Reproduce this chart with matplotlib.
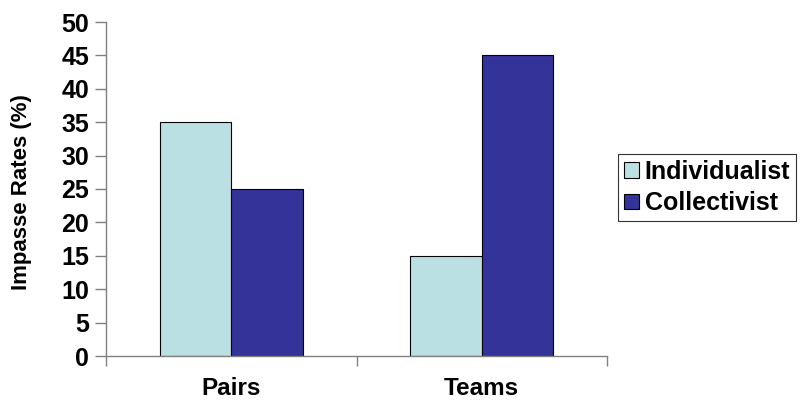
import matplotlib
matplotlib.use("Agg")
import matplotlib.pyplot as plt
import numpy as np

plt.rcParams['font.family'] = ['Liberation Sans', 'DejaVu Sans']
plt.rcParams['font.weight'] = 'bold'

groups = ["Pairs", "Teams"]
series = ["Individualist", "Collectivist"]
individualist = [35, 15]
collectivist = [25, 45]

colors = ['#BAE0E3', '#333399']

fig = plt.figure(figsize=(8, 4.03), dpi=100)
ax = fig.add_axes([106/800, 47/403, 501/800, 334/403])

x = np.arange(len(groups))
width = 0.285
ax.bar(x - width/2, individualist, width, color=colors[0], edgecolor='black', linewidth=0.8, label=series[0])
ax.bar(x + width/2, collectivist, width, color=colors[1], edgecolor='black', linewidth=0.8, label=series[1])

ax.set_xlim(-0.5, 1.5)
ax.set_ylim(0, 50)
ax.set_yticks(np.arange(0, 51, 5))
ax.tick_params(axis='y', direction='out', length=8, width=1, color='#808080', labelsize=18, pad=4)

# category labels sit between the divider ticks
ax.set_xticks([-0.5, 0.5, 1.5])
ax.set_xticklabels([])
ax.set_xticks(x, minor=True)
ax.set_xticklabels(groups, minor=True, fontsize=17.5, fontweight='bold')
ax.tick_params(axis='x', which='major', direction='out', length=7, width=1, color='#808080')
ax.tick_params(axis='x', which='minor', length=0, pad=15)

for side in ['top', 'right']:
    ax.spines[side].set_visible(False)
for side in ['left', 'bottom']:
    ax.spines[side].set_color('#808080')
    ax.spines[side].set_linewidth(1)

ax.set_ylabel("Impasse Rates (%)", fontsize=16, fontweight='bold')
ax.yaxis.set_label_coords(-0.148, 0.49)

leg = fig.legend(loc='center left', bbox_to_anchor=(618/800, 1 - 187.5/403), fontsize=18,
                 frameon=True, fancybox=False, handlelength=0.6, handleheight=0.6,
                 handletextpad=0.25, borderpad=0.22, labelspacing=0.3, borderaxespad=0)
leg.get_frame().set_edgecolor('black')
leg.get_frame().set_linewidth(0.8)

fig.savefig("out.png", dpi=100)
